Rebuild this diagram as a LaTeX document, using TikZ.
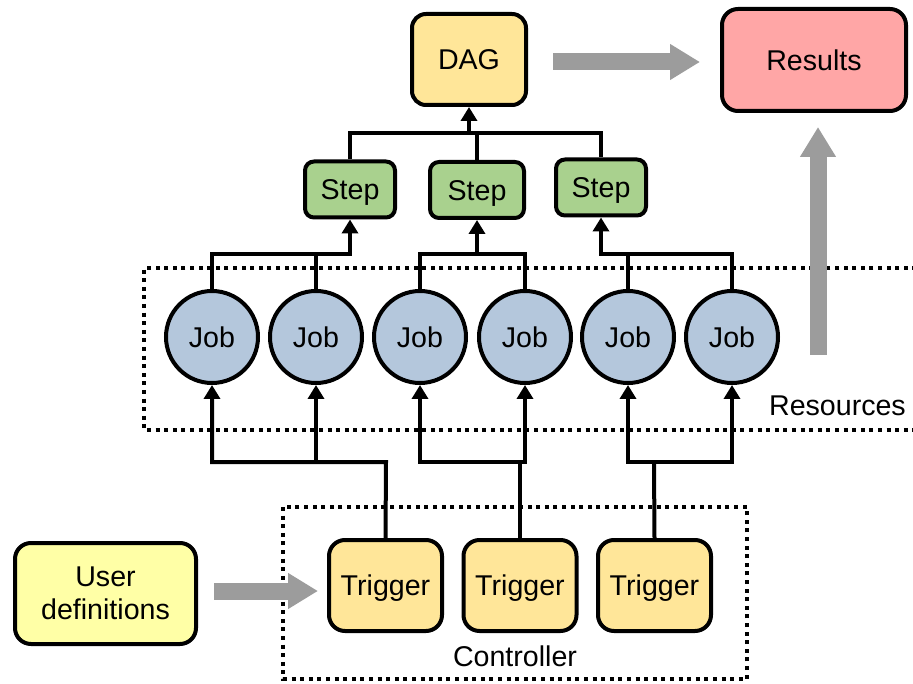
\documentclass[tikz,border=0pt]{standalone}
\usepackage{fontspec}
\setmainfont{Liberation Sans}
\usetikzlibrary{arrows.meta}
\definecolor{dagfill}{HTML}{FFE699}
\definecolor{resfill}{HTML}{FFA6A6}
\definecolor{stepfill}{HTML}{A9D18E}
\definecolor{jobfill}{HTML}{B4C7DC}
\definecolor{userfill}{HTML}{FFFFA6}
\definecolor{arrowgray}{HTML}{9C9C9C}
\begin{document}
\begin{tikzpicture}[x=1pt,y=-1pt,
  every node/.style={font=\fontsize{28.6}{33}\selectfont},
  box/.style={draw=black, line width=4pt, rounded corners=14pt, inner sep=0pt},
  oneline/.style={text height=20.5pt, text depth=0pt},
  stepbox/.style={box, oneline, fill=stepfill, rounded corners=9pt, minimum height=56pt},
  trigbox/.style={box, oneline, fill=dagfill, rounded corners=16pt, minimum width=113pt, minimum height=91pt},
  job/.style={circle, draw=black, line width=4pt, fill=jobfill, minimum size=92pt, inner sep=0pt, oneline},
  link/.style={line width=4pt},
  arrowed/.style={link, -{Triangle[length=14pt,width=16pt]}},
  bigarrow/.style={draw=arrowgray, line width=17pt, -{Triangle[length=30pt,width=34pt]}},
  zone/.style={line width=4pt, dash pattern=on 4pt off 4.6pt},
  label/.style={inner sep=0pt}]
\useasboundingbox (0,0) rectangle (913,684);

% dotted areas
\draw[zone] (925,268) -- (144,268) -- (144,430) -- (925,430);
\draw[zone] (283,507) rectangle (747,679);
\node[label, anchor=base east] (reslabel) at (906,416) {Resources};
\node[label, anchor=base] (ctrllabel) at (515,666) {Controller};

% top level
\node[box, oneline, fill=dagfill, minimum width=114pt, minimum height=91pt] (dag) at (469,59.5) {DAG};
\node[box, oneline, fill=resfill, rounded corners=16pt, minimum width=184pt, minimum height=102pt] (res) at (814,60) {Results};

% steps
\node[stepbox, minimum width=90pt] (s1) at (350,189.5) {Step};
\node[stepbox, minimum width=94pt] (s2) at (477,190) {Step};
\node[stepbox, minimum width=90pt] (s3) at (601,187.5) {Step};

% jobs
\foreach \i/\x in {1/212,2/316,3/420,4/525,5/628,6/732}
  \node[job] (j\i) at (\x,337) {Job};

% triggers and user input
\node[trigbox] (t1) at (385.5,585.5) {Trigger};
\node[trigbox] (t2) at (520,585.5) {Trigger};
\node[trigbox] (t3) at (654.5,585.5) {Trigger};
\node[box, fill=userfill, rounded corners=16pt, minimum width=181pt, minimum height=101pt, align=center] (ud) at (105.5,593.5) {User\\definitions};

% junction points
\coordinate (bus) at (469,133);
\coordinate (b1) at (350,254);
\coordinate (b2) at (477,254);
\coordinate (b3) at (601,254);
\coordinate (c1) at (386,462);
\coordinate (c2) at (520,462);
\coordinate (c3) at (654,462);
\coordinate (jobsout) at (818,355);

% steps into the DAG
\draw[link] (s1.north) |- (bus) -| (s3.north);
\draw[link] (s2.north) -- (s2.north |- bus);
\draw[arrowed] (bus) -- (dag.south);

% jobs into steps
\draw[arrowed] (j1.north) |- (b1) -- (s1.south);
\draw[link] (j2.north) -- (j2.north |- b1);
\draw[link] (j3.north) |- (b2) -| (j4.north);
\draw[arrowed] (b2) -- (s2.south);
\draw[arrowed] (j6.north) |- (b3) -- (s3.south);
\draw[link] (j5.north) -- (j5.north |- b3);

% triggers into jobs
\draw[arrowed] (t1.north) -- (c1) -| (j1.south);
\draw[arrowed] (j2.south |- c1) -- (j2.south);
\draw[link] (t2.north) -- (c2);
\draw[arrowed] (c2) -| (j3.south);
\draw[arrowed] (c2) -| (j4.south);
\draw[link] (t3.north) -- (c3);
\draw[arrowed] (c3) -| (j5.south);
\draw[arrowed] (c3) -| (j6.south);

% data flow
\draw[bigarrow] ([shift={(25,2.5)}]dag.east) -- ([shift={(-20,2)}]res.west);
\draw[bigarrow] (jobsout) -- ([shift={(4,14)}]res.south);
\draw[bigarrow] ([shift={(16,-2.5)}]ud.east) -- ([shift={(-9,5.5)}]t1.west);
\end{tikzpicture}
\end{document}
